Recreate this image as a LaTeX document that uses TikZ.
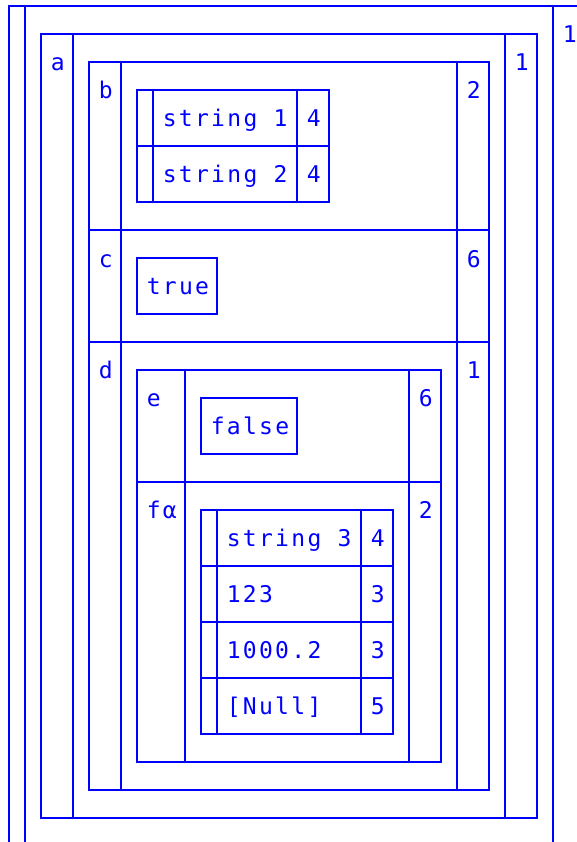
\documentclass[tikz,border=0pt]{standalone}
\usepackage{fontspec}
\setmonofont[LetterSpace=10]{DejaVu Sans Mono}

\begin{document}
\begin{tikzpicture}[x=1pt, y=-1pt, line width=1.6pt, blue, font=\ttfamily\fontsize{23}{27}\selectfont,
  cell/.style={anchor=base west, inner sep=0pt, text=blue}]

\useasboundingbox (0,0) rectangle (577,842);

\begin{scope}
\draw (9,842) -- (9,6) -- (577,6);
\draw (25,6) -- (25,842);
\draw (553,6) -- (553,842);
\node[cell] (top1) at (562,42.5) {1};
\end{scope}

\begin{scope}
\draw (41,34) rectangle (537,818);
\draw (73,34) -- (73,818);
\draw (505,34) -- (505,818);
\node[cell] (a) at (50,70.5) {a};
\node[cell] (a1) at (514,70.5) {1};
\end{scope}

\begin{scope}
\draw (89,62) rectangle (489,790);
\draw (121,62) -- (121,790);
\draw (457,62) -- (457,790);
\draw (89,230) -- (489,230);
\draw (89,342) -- (489,342);
\node[cell] (b) at (98,98.5) {b};
\node[cell] (b2) at (466,98.5) {2};
\node[cell] (c) at (98,267) {c};
\node[cell] (c6) at (466,267) {6};
\node[cell] (d) at (98,378.5) {d};
\node[cell] (d1) at (466,378.5) {1};
\end{scope}

\begin{scope}
\draw (137,90) rectangle (329,202);
\draw (153,90) -- (153,202);
\draw (297,90) -- (297,202);
\draw (137,146) -- (329,146);
\node[cell] (s1) at (162,126.5) {string 1};
\node[cell] (s1n) at (306,126.5) {4};
\node[cell] (s2) at (162,182.5) {string 2};
\node[cell] (s2n) at (306,182.5) {4};
\end{scope}

\draw (137,258) rectangle (217,314);
\node[cell] (tr) at (146,294.5) {true};

\begin{scope}
\draw (137,370) rectangle (441,762);
\draw (185,370) -- (185,762);
\draw (409,370) -- (409,762);
\draw (137,482) -- (441,482);
\node[cell] (e) at (146,406.5) {e};
\node[cell] (e6) at (418,406.5) {6};
\node[cell] (f) at (146,518.5) {fα};
\node[cell] (f2) at (418,518.5) {2};

\draw (201,398) rectangle (297,454);
\node[cell] (fa) at (210,434.5) {false};
\end{scope}

\begin{scope}
\draw (201,510) rectangle (393,734);
\draw (217,510) -- (217,734);
\draw (361,510) -- (361,734);
\draw (201,566) -- (393,566);
\draw (201,622) -- (393,622);
\draw (201,678) -- (393,678);
\node[cell] (s3) at (226,546.5) {string 3};
\node[cell] (s3n) at (370,546.5) {4};
\node[cell] (int) at (226,602.5) {123};
\node[cell] (intn) at (370,602.5) {3};
\node[cell] (flt) at (226,658.5) {1000.2};
\node[cell] (fltn) at (370,658.5) {3};
\node[cell] (nul) at (226,714.5) {[Null]};
\node[cell] (nuln) at (370,714.5) {5};
\end{scope}

\end{tikzpicture}
\end{document}
